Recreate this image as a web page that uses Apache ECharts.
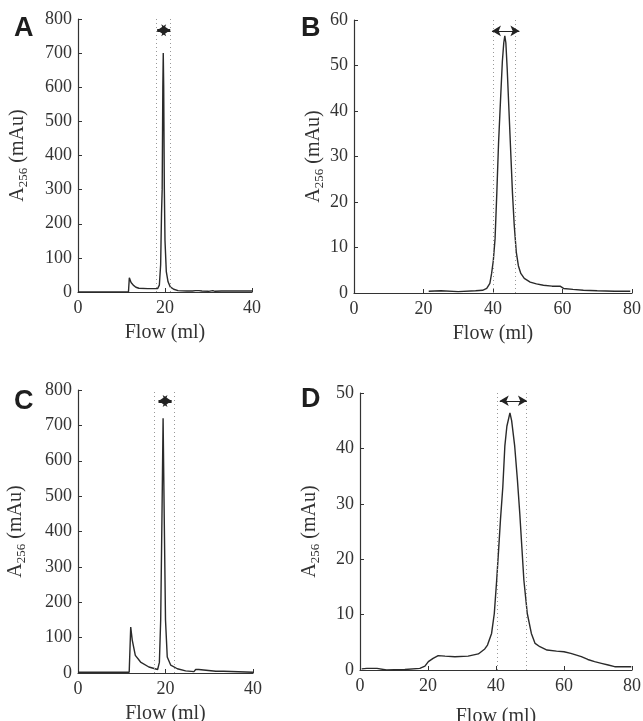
<!DOCTYPE html>
<html><head><meta charset="utf-8">
<script src="https://cdn.jsdelivr.net/npm/echarts@6/dist/echarts.min.js"></script>
<style>html,body{margin:0;padding:0;background:#fff}#c{width:643px;height:721px}</style>
</head><body><div id="c"></div>
<script>
// Panel letters
const panelLetters = ['A', 'B', 'C', 'D'];
// Axis settings (values)
const xMaxA = 40, xMaxB = 80, xMaxC = 40, xMaxD = 80;
const yMaxA = 800, yMaxB = 60, yMaxC = 800, yMaxD = 50;
const yStepA = 100, yStepB = 10, yStepC = 100, yStepD = 10;
// Traces [flow (ml), A256 (mAu)]
const traceA = [[0,0],[11.6,0],[11.8,42],[12.2,28],[12.7,20],[13.3,14],[14,11],[16,10],[18.3,10],[18.7,20],[19.0,80],[19.2,230],[19.35,300],[19.5,600],[19.6,700],[19.7,600],[19.85,300],[20.0,150],[20.3,60],[20.7,30],[21.2,15],[22,8],[23,4],[25,3],[26.3,3],[26.6,8],[27,4],[27.4,9],[27.8,4],[28.5,3],[30,2],[31,4],[31.5,2],[33,3],[40,3]];
const traceB = [[21.5,0.4],[25,0.5],[30,0.3],[35,0.5],[37,0.6],[38.2,1.0],[39.1,2.1],[39.6,4.3],[40.1,7.2],[40.6,12],[41.1,22],[41.6,33],[42.2,43],[42.7,51],[43.1,55],[43.4,56.5],[43.7,55],[44.1,49],[44.6,40],[45.1,31],[45.6,22],[46.1,15],[46.7,9],[47.3,6],[48,4.3],[49,3.2],[50.7,2.4],[52.5,2.0],[54.5,1.7],[57,1.5],[59.3,1.5],[60.3,1.0],[63,0.8],[66,0.6],[70,0.5],[75,0.4],[79.5,0.4]];
const traceC = [[0,2],[11.7,2],[12.05,130],[12.4,93],[13.1,50],[14.3,31],[16.2,17],[18.2,10],[18.6,30],[18.9,150],[19.2,450],[19.45,720],[19.7,450],[20.0,150],[20.4,45],[21.2,22],[22.7,12],[24.6,6],[26.5,4],[26.9,10],[27.6,10],[28,6],[31.5,5],[31.8,2],[32.2,5],[33.3,5],[33.5,2],[40,2]];
const traceD = [[0.5,0.2],[2,0.3],[5,0.3],[7.8,0],[10,0.05],[13.2,0.1],[17.6,0.3],[19.1,0.7],[20.1,1.5],[21.5,2.1],[23,2.6],[25,2.5],[27.9,2.4],[31.8,2.5],[34.8,2.9],[36.7,3.8],[37.5,4.5],[38.7,6.6],[39.5,10.2],[40.2,16.2],[40.8,22],[41.3,27],[42,33],[42.6,40.4],[43.2,44],[44.1,46.4],[44.6,45],[45.5,40.4],[46.3,34.3],[47,28.2],[47.6,22.2],[48.2,16.2],[49.2,10.2],[50.4,6.6],[51.5,4.8],[52.9,4.2],[55,3.6],[57.8,3.4],[60,3.3],[62,3.0],[65.1,2.4],[67,1.9],[69,1.5],[71,1.2],[73,0.9],[74.9,0.6],[77,0.6],[79.8,0.6]];
// Fraction boundaries (dotted lines) and arrows [x1, x2, y]
const cutsA = [18.0, 21.3], cutsB = [40.0, 46.4], cutsC = [17.4, 21.9], cutsD = [40.5, 48.8];
const arrowA = [18.2, 21.2, 767], arrowB = [39.7, 47.6, 57.6], arrowC = [18.4, 21.4, 769], arrowD = [41.1, 49.1, 48.6];

const serif = 'Liberation Serif, Times New Roman, serif';
const grids = [
  {left:78, top:19, width:174, height:273, outerBoundsMode:'none', containLabel:false},
  {left:354, top:20, width:278, height:273, outerBoundsMode:'none', containLabel:false},
  {left:78, top:390, width:175, height:283, outerBoundsMode:'none', containLabel:false},
  {left:360, top:393, width:272, height:277, outerBoundsMode:'none', containLabel:false}
];
const yGaps = [48, 28, 50, 38];
const xGaps = [31, 31, 31, 37];
const xMax = [xMaxA, xMaxB, xMaxC, xMaxD];
const yMax = [yMaxA, yMaxB, yMaxC, yMaxD];
const yStep = [yStepA, yStepB, yStepC, yStepD];
const traces = [traceA, traceB, traceC, traceD];
const cuts = [cutsA, cutsB, cutsC, cutsD];
const arrows = [arrowA, arrowB, arrowC, arrowD];
const fat = [true, false, true, false];

const axisCol = '#333';
const xAxis = [], yAxis = [], series = [];
for (let i = 0; i < 4; i++) {
  xAxis.push({
    type:'value', gridIndex:i, min:0, max:xMax[i], interval:20,
    name:'Flow (ml)', nameLocation:'middle', nameGap:xGaps[i],
    nameTextStyle:{fontFamily:serif, fontSize:20, color:'#333'},
    axisLine:{lineStyle:{color:axisCol, width:1.2}},
    axisTick:{inside:true, length:4, lineStyle:{color:axisCol}},
    axisLabel:{fontFamily:serif, fontSize:18, color:'#333', margin:7},
    splitLine:{show:false}
  });
  yAxis.push({
    type:'value', gridIndex:i, min:0, max:yMax[i], interval:yStep[i],
    name:'{a|A}{s|256}{a| (mAu)}', nameLocation:'middle', nameGap:yGaps[i],
    nameTextStyle:{color:'#333', rich:{
      a:{fontFamily:serif, fontSize:20, color:'#333', lineHeight:24, verticalAlign:'middle'},
      s:{fontFamily:serif, fontSize:13, color:'#333', lineHeight:24, verticalAlign:'bottom'}
    }},
    axisLine:{show:true, lineStyle:{color:axisCol, width:1.2}},
    axisTick:{show:true, inside:true, length:4, lineStyle:{color:axisCol}},
    axisLabel:{fontFamily:serif, fontSize:18, color:'#333', margin:6},
    splitLine:{show:false}
  });
  series.push({
    type:'line', xAxisIndex:i, yAxisIndex:i, data:traces[i], showSymbol:false, symbol:'none',
    lineStyle:{color:'#2a2a2a', width:1.4}, clip:false, silent:true,
    markLine:{silent:true, symbol:'none', label:{show:false},
      lineStyle:{color:'#999', type:[1,3], width:1},
      data:[{xAxis:cuts[i][0]},{xAxis:cuts[i][1]}]}
  });
  const a = arrows[i];
  series.push({
    type:'line', xAxisIndex:i, yAxisIndex:i, data:[], silent:true,
    markLine:{silent:true, symbol:['arrow','arrow'], symbolSize:fat[i]?[9,9]:[8,9], label:{show:false},
      lineStyle:{color:'#222', type:'solid', width:fat[i]?3:1},
      data:[[{coord:[a[0],a[2]]},{coord:[a[1],a[2]]}]]}
  });
}
const letterPos = [[9,10],[296,10],[9,383],[296,381]];
const title = panelLetters.map((t, i) => ({
  text:t, left:letterPos[i][0], top:letterPos[i][1],
  textStyle:{fontFamily:'Liberation Sans, Arial, sans-serif', fontWeight:'bold', fontSize:27, color:'#1e1e1e'}
}));
const chart = echarts.init(document.getElementById('c'), null, {renderer:'canvas'});
chart.setOption({animation:false, backgroundColor:'#fff', title, grid:grids, xAxis, yAxis, series});
</script></body></html>
